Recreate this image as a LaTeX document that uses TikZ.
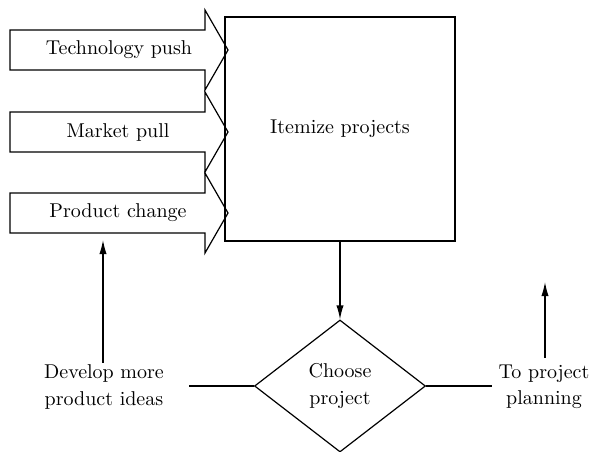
\documentclass[tikz,border=0pt]{standalone}
\usetikzlibrary{arrows.meta,positioning,shapes.geometric}
\tikzset{
  ar/.style={-{Latex[length=7pt,width=3.6pt]},line width=0.6pt},
  ln/.style={line width=0.6pt},
  lbl/.style={font=\fontsize{10}{13.2}\selectfont,align=center,inner sep=0pt},
  itembox/.style={draw,line width=0.6pt,minimum width=115pt,minimum height=112pt,inner sep=0pt,lbl},
  choice/.style={draw,diamond,line width=0.6pt,minimum width=85.5pt,minimum height=66pt,inner sep=0pt,lbl}
}
% block arrow feeding the box, #1 = y of its centre
\newcommand{\feedarrow}[1]{\draw[ln,line join=miter] (10,{#1-20}) -- (205,{#1-20}) -- (205,{#1-40}) -- (228,#1)
  -- (205,{#1+40}) -- (205,{#1+20}) -- (10,{#1+20}) -- cycle;}

\begin{document}
\begin{tikzpicture}[x=0.5pt,y=-0.5pt]
\useasboundingbox (0,0) rectangle (590,451);
\feedarrow{50}
\feedarrow{132}
\feedarrow{213}
\node[lbl] (tech) at (119,50) {Technology push};
\node[lbl] (market) at (118,132) {Market pull};
\node[lbl] (change) at (118,213) {Product change};
\node[itembox] (itemize) at (340,129) {Itemize projects};
\node[choice] (choose) at (340,386) {Choose\\project};
\node[lbl] (develop) at (104,387) {Develop more\\product ideas};
\node[lbl] (planning) at (544,387) {To project\\planning};
\coordinate (devtip) at (103,240);
\coordinate (plantip) at (545,282);
\coordinate (devend) at (189,386);
\coordinate (planend) at (492,386);
\draw[ar] (itemize.south) -- (choose.north);
\draw[ln] (devend) -- (choose.west);
\draw[ln] (choose.east) -- (planend);
\draw[ar] ([yshift=1pt]develop.north -| devtip) -- (devtip);
\draw[ar] ([yshift=3.5pt]planning.north -| plantip) -- (plantip);
\end{tikzpicture}
\end{document}
